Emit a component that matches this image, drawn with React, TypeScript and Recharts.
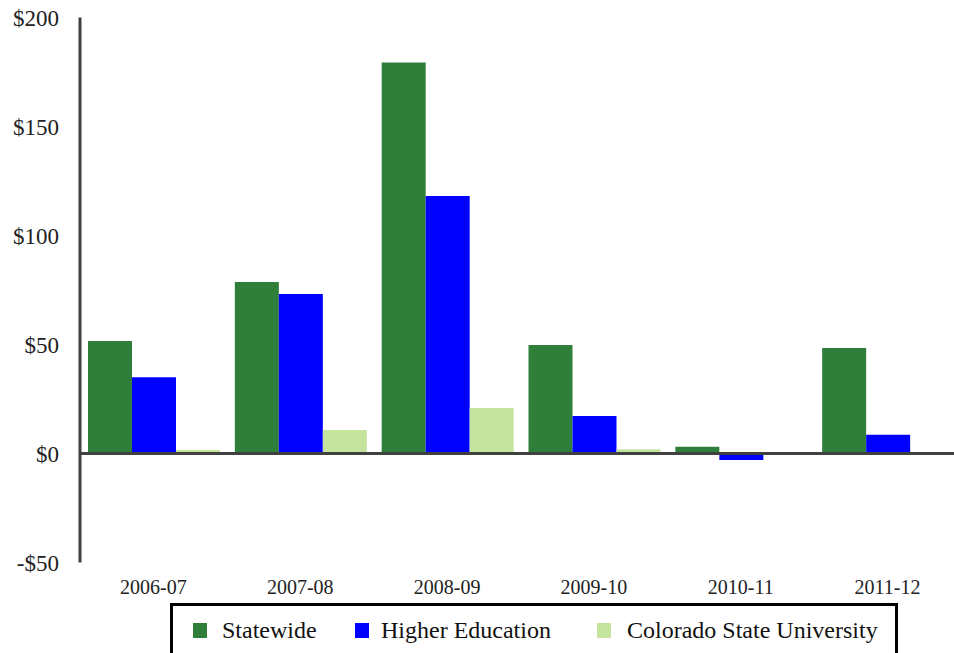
import React from 'react';
import { BarChart, Bar, XAxis, YAxis, ReferenceLine } from 'recharts';

const categories = ['2006-07', '2007-08', '2008-09', '2009-10', '2010-11', '2011-12'];
const statewide = [51.6, 78.7, 179.4, 49.8, 3.1, 48.4];
const higherEducation = [35.0, 73.2, 118.1, 17.2, -3.0, 8.6];
const csu = [1.6, 10.8, 20.9, 2.0, 0, 0];
const yTicks = [-50, 0, 50, 100, 150, 200];

const seriesInfo = [
  { key: 'statewide', name: 'Statewide', color: '#2F7F3B' },
  { key: 'higher', name: 'Higher Education', color: '#0000FF' },
  { key: 'csu', name: 'Colorado State University', color: '#C4E49E' },
];

const data = categories.map((c, i) => ({
  category: c,
  statewide: statewide[i],
  higher: higherEducation[i],
  csu: csu[i],
}));

const FONT = "'Liberation Serif', 'Times New Roman', serif";

const fmt = (v: number) => (v < 0 ? `-$${Math.abs(v)}` : `$${v}`);

// legend item positions within the box (square left, text left)
const legendSquareX = [20, 182, 424];
const legendTextX = [49, 208, 454];

export default function App() {
  return (
    <div style={{ position: 'fixed', left: 0, top: 0, width: 954, height: 653, overflow: 'hidden', background: '#fff', fontFamily: FONT }}>
      <BarChart
        width={970}
        height={653}
        data={data}
        margin={{ top: 17.5, right: 9, bottom: 60.5, left: 0 }}
        barCategoryGap={8}
        barGap={0}
      >
        <XAxis
          dataKey="category"
          axisLine={false}
          tickLine={false}
          tickSize={0}
          tickMargin={17}
          height={30}
          interval={0}
          tick={{ fontFamily: FONT, fontSize: 20, fill: '#222' }}
        />
        <YAxis
          domain={[-50, 200]}
          ticks={yTicks}
          width={80}
          tickLine={false}
          tickSize={0}
          tickMargin={21}
          axisLine={{ stroke: '#404040', strokeWidth: 3 }}
          tickFormatter={fmt}
          tick={{ fontFamily: FONT, fontSize: 23, fill: '#222' }}
          allowDataOverflow
        />
        {seriesInfo.map((s) => (
          <Bar key={s.key} dataKey={s.key} name={s.name} fill={s.color} isAnimationActive={false} />
        ))}
        <ReferenceLine y={0} stroke="#404040" strokeWidth={3} />
      </BarChart>
      <div
        style={{
          position: 'absolute',
          left: 170,
          top: 603,
          width: 722,
          height: 60,
          border: '3px solid #000',
          boxSizing: 'content-box',
        }}
      >
        {seriesInfo.map((s, i) => (
          <React.Fragment key={s.key}>
            <div
              style={{
                position: 'absolute',
                left: legendSquareX[i],
                top: 17,
                width: 14,
                height: 15,
                background: s.color,
              }}
            />
            <span
              style={{
                position: 'absolute',
                left: legendTextX[i],
                top: 10,
                fontFamily: FONT,
                fontSize: 24,
                lineHeight: '28px',
                color: '#111',
                whiteSpace: 'nowrap',
              }}
            >
              {s.name}
            </span>
          </React.Fragment>
        ))}
      </div>
    </div>
  );
}
